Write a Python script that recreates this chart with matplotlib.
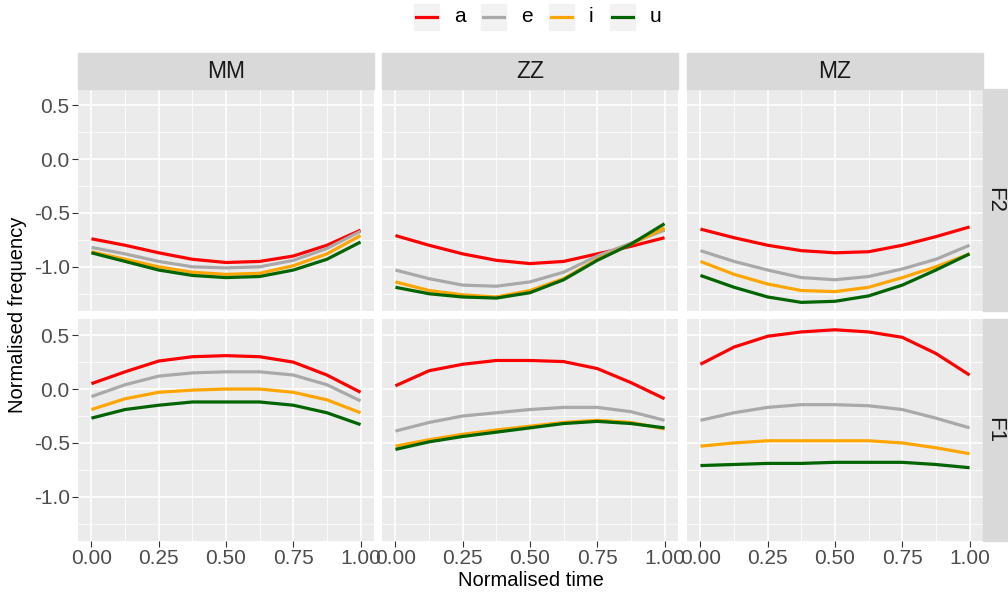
import matplotlib
matplotlib.use("Agg")
import matplotlib.pyplot as plt
from matplotlib.patches import Rectangle
from matplotlib.lines import Line2D
import numpy as np

plt.rcParams["font.family"] = ["Liberation Sans", "DejaVu Sans"]

# normalised time sample points
time = [0.0, 0.125, 0.25, 0.375, 0.5, 0.625, 0.75, 0.875, 1.0]

vowels = ["a", "e", "i", "u"]
vowel_colors = {"a": "#FF0000", "e": "#A9A9A9", "i": "#FFA500", "u": "#006400"}

speakers = ["MM", "ZZ", "MZ"]
formants = ["F2", "F1"]

# F2 tracks
mm_f2_a = [-0.74, -0.80, -0.87, -0.93, -0.96, -0.95, -0.90, -0.80, -0.66]
mm_f2_e = [-0.82, -0.88, -0.95, -1.00, -1.01, -1.00, -0.94, -0.83, -0.67]
mm_f2_i = [-0.86, -0.93, -1.00, -1.05, -1.07, -1.06, -0.99, -0.88, -0.71]
mm_f2_u = [-0.87, -0.95, -1.03, -1.08, -1.10, -1.09, -1.03, -0.93, -0.77]

zz_f2_a = [-0.71, -0.80, -0.88, -0.94, -0.97, -0.95, -0.88, -0.81, -0.73]
zz_f2_e = [-1.03, -1.11, -1.17, -1.18, -1.14, -1.05, -0.90, -0.78, -0.66]
zz_f2_i = [-1.14, -1.22, -1.26, -1.28, -1.22, -1.11, -0.93, -0.79, -0.64]
zz_f2_u = [-1.19, -1.25, -1.28, -1.29, -1.24, -1.12, -0.94, -0.79, -0.60]

mz_f2_a = [-0.65, -0.73, -0.80, -0.85, -0.87, -0.86, -0.80, -0.72, -0.63]
mz_f2_e = [-0.85, -0.95, -1.03, -1.10, -1.12, -1.09, -1.02, -0.93, -0.80]
mz_f2_i = [-0.95, -1.07, -1.16, -1.22, -1.23, -1.19, -1.10, -1.00, -0.88]
mz_f2_u = [-1.08, -1.19, -1.28, -1.33, -1.32, -1.27, -1.17, -1.03, -0.88]

# F1 tracks
mm_f1_a = [0.05, 0.16, 0.26, 0.30, 0.31, 0.30, 0.25, 0.13, -0.03]
mm_f1_e = [-0.07, 0.04, 0.12, 0.15, 0.16, 0.16, 0.13, 0.04, -0.11]
mm_f1_i = [-0.19, -0.09, -0.03, -0.01, 0.00, 0.00, -0.03, -0.10, -0.22]
mm_f1_u = [-0.27, -0.19, -0.15, -0.12, -0.12, -0.12, -0.15, -0.22, -0.33]

zz_f1_a = [0.03, 0.17, 0.23, 0.265, 0.265, 0.255, 0.19, 0.06, -0.09]
zz_f1_e = [-0.39, -0.31, -0.25, -0.22, -0.19, -0.17, -0.17, -0.21, -0.29]
zz_f1_i = [-0.53, -0.47, -0.42, -0.38, -0.345, -0.31, -0.29, -0.31, -0.37]
zz_f1_u = [-0.56, -0.49, -0.44, -0.40, -0.36, -0.32, -0.30, -0.32, -0.36]

mz_f1_a = [0.23, 0.39, 0.49, 0.53, 0.55, 0.53, 0.48, 0.33, 0.13]
mz_f1_e = [-0.29, -0.22, -0.17, -0.145, -0.145, -0.155, -0.19, -0.27, -0.36]
mz_f1_i = [-0.53, -0.50, -0.48, -0.48, -0.48, -0.48, -0.50, -0.545, -0.60]
mz_f1_u = [-0.71, -0.70, -0.69, -0.69, -0.68, -0.68, -0.68, -0.70, -0.73]

tracks = {
    ("F2", "MM"): [mm_f2_a, mm_f2_e, mm_f2_i, mm_f2_u],
    ("F2", "ZZ"): [zz_f2_a, zz_f2_e, zz_f2_i, zz_f2_u],
    ("F2", "MZ"): [mz_f2_a, mz_f2_e, mz_f2_i, mz_f2_u],
    ("F1", "MM"): [mm_f1_a, mm_f1_e, mm_f1_i, mm_f1_u],
    ("F1", "ZZ"): [zz_f1_a, zz_f1_e, zz_f1_i, zz_f1_u],
    ("F1", "MZ"): [mz_f1_a, mz_f1_e, mz_f1_i, mz_f1_u],
}

x_ticks = [0.0, 0.25, 0.5, 0.75, 1.0]
x_tick_labels = ["0.00", "0.25", "0.50", "0.75", "1.00"]
y_ticks = [0.5, 0.0, -0.5, -1.0]
y_tick_labels = ["0.5", "0.0", "-0.5", "-1.0"]

W, H = 1008, 596
fig = plt.figure(figsize=(W / 100, H / 100), dpi=100)

# panel geometry in pixels
col_x = [78, 382, 687]
panel_w = 296
row_y = [89, 319]
panel_h = 222
strip_h = 36
rstrip_w = 25

PANEL_BG = "#EBEBEB"
STRIP_BG = "#D9D9D9"
TICK_COL = "#4D4D4D"


def px_rect(x0, y0, w, h):
    return [x0 / W, 1 - (y0 + h) / H, w / W, h / H]


for r, formant in enumerate(formants):
    for c, spk in enumerate(speakers):
        ax = fig.add_axes(px_rect(col_x[c], row_y[r], panel_w, panel_h))
        ax.set_facecolor(PANEL_BG)
        for s in ax.spines.values():
            s.set_visible(False)
        ax.set_xlim(-0.05, 1.05)
        ax.set_ylim(-1.41, 0.65)
        ax.set_xticks(x_ticks)
        ax.set_yticks(y_ticks)
        ax.set_xticks([0.125, 0.375, 0.625, 0.875], minor=True)
        ax.set_yticks([0.25, -0.25, -0.75, -1.25], minor=True)
        ax.grid(which="major", color="white", linewidth=1.1)
        ax.grid(which="minor", color="white", linewidth=0.55)
        ax.set_axisbelow(True)
        ax.tick_params(which="minor", length=0)
        ax.tick_params(which="major", length=4, width=0.8, color="#333333",
                       labelsize=15, labelcolor=TICK_COL, pad=2)
        if c == 0:
            ax.set_yticklabels(y_tick_labels)
        else:
            ax.tick_params(axis="y", length=0, labelleft=False)
        if r == 1:
            ax.set_xticklabels(x_tick_labels)
        else:
            ax.tick_params(axis="x", length=0, labelbottom=False)

        for v, series in zip(vowels, tracks[(formant, spk)]):
            ax.plot(time, series, color=vowel_colors[v], linewidth=2.3,
                    solid_capstyle="butt")

# column strips
for c, spk in enumerate(speakers):
    fig.patches.append(Rectangle((col_x[c] / W, 1 - (row_y[0]) / H),
                                 panel_w / W, strip_h / H,
                                 transform=fig.transFigure, color=STRIP_BG,
                                 zorder=0))
    fig.text((col_x[c] + panel_w / 2) / W, 1 - (row_y[0] - strip_h / 2) / H,
             spk, ha="center", va="center", fontsize=16.5, color="#1A1A1A")

# row strips (text reads top to bottom)
rx = col_x[2] + panel_w
for r, formant in enumerate(formants):
    fig.patches.append(Rectangle((rx / W, 1 - (row_y[r] + panel_h) / H),
                                 rstrip_w / W, panel_h / H,
                                 transform=fig.transFigure, color=STRIP_BG,
                                 zorder=0))
    fig.text((rx + 12) / W, 1 - (row_y[r] + panel_h / 2) / H,
             formant, ha="center", va="center", fontsize=16,
             color="#1A1A1A", rotation=270, rotation_mode="anchor")

# axis titles
fig.text((col_x[0] + (col_x[2] + panel_w - col_x[0]) / 2) / W, 1 - 581 / H,
         "Normalised time", ha="center", va="center", fontsize=14.5)
fig.text(18 / W, 1 - (row_y[0] + (row_y[1] + panel_h - row_y[0]) / 2) / H,
         "Normalised frequency", ha="center", va="center", fontsize=14.5,
         rotation=90)

# legend with grey key boxes
key_x = [414, 481, 549, 610]
key_w, key_top, key_h = 25, 4, 26
for kx, v in zip(key_x, vowels):
    fig.patches.append(Rectangle((kx / W, 1 - (key_top + key_h) / H),
                                 key_w / W, key_h / H,
                                 transform=fig.transFigure, color="#F2F2F2",
                                 zorder=0))
    ky = 1 - (key_top + key_h / 2) / H
    fig.add_artist(Line2D([(kx + 2) / W, (kx + key_w - 2) / W], [ky, ky],
                          transform=fig.transFigure, color=vowel_colors[v],
                          linewidth=2.3))
    fig.text((kx + key_w + 15) / W, ky, v, ha="left", va="center",
             fontsize=15, color="black")

fig.savefig("out.png", dpi=100)
